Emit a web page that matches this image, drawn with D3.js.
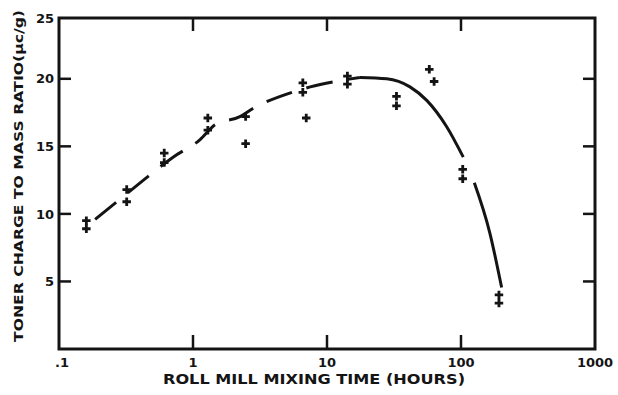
<!DOCTYPE html>
<html>
<head>
<meta charset="utf-8">
<script src="https://cdn.jsdelivr.net/npm/d3@7"></script>
<style>
  html, body { margin: 0; padding: 0; background: #ffffff; }
  svg { display: block; }
  text { font-family: "DejaVu Sans", "Liberation Sans", sans-serif; font-weight: bold; fill: #141414; }
</style>
</head>
<body>
<svg id="chart" width="618" height="395"></svg>
<script>
// ---- data ----
const hours = [0.16, 0.16, 0.32, 0.32, 0.61, 0.61, 1.29, 1.29, 2.47, 2.47, 6.6, 6.6, 7.0, 14.2, 14.2, 33, 33, 58, 63, 103, 103, 192, 192];
const ratio = [9.5, 8.9, 11.8, 10.9, 14.5, 13.8, 17.1, 16.2, 17.2, 15.2, 19.7, 19.0, 17.1, 20.2, 19.6, 18.7, 18.0, 20.7, 19.8, 13.3, 12.6, 4.0, 3.4];

// fitted curve: dashed rising part, solid peak/fall, solid tail
const fitDashHours = [0.186, 0.376, 0.538, 0.71, 1.13, 1.46, 2.24, 2.8, 5.48, 7.5, 11.5, 17.6];
const fitDashRatio = [9.6, 12.05, 13.3, 14.2, 15.5, 16.6, 17.2, 17.8, 19.0, 19.4, 19.8, 20.1];
const fitSolidHours = [17.6, 27.9, 41.6, 55.5, 78.2, 104];
const fitSolidRatio = [20.1, 20.0, 19.4, 18.4, 16.45, 14.2];
const fitTailHours = [125.7, 164, 201];
const fitTailRatio = [12.3, 8.6, 4.55];

const xTicks = [0.1, 1, 10, 100, 1000];
const xTickLabels = [".1", "1", "10", "100", "1000"];
const yTicks = [5, 10, 15, 20, 25];
const yTickLabels = ["5", "10", "15", "20", "25"];

const xTitle = "ROLL MILL MIXING TIME (HOURS)";
const yTitle = "TONER CHARGE TO MASS RATIO(\u03bcc/g)";

// ---- layout ----
const svg = d3.select("#chart");
const L = 59, R = 595, T = 18, B = 349;
const ink = "#141414";

const x = d3.scaleLog().domain([0.1, 1000]).range([L, R]);
const y = d3.scaleLinear().domain([0, 24.5]).range([B, T]);

// frame
svg.append("rect")
  .attr("x", L).attr("y", T).attr("width", R - L).attr("height", B - T)
  .attr("fill", "none").attr("stroke", ink).attr("stroke-width", 3);

// inner tick marks
const innerY = yTicks.filter(v => v < 24.5);
svg.selectAll(".ytl").data(innerY).enter().append("line")
  .attr("x1", L).attr("x2", L + 12).attr("y1", d => y(d)).attr("y2", d => y(d))
  .attr("stroke", ink).attr("stroke-width", 2.5);
svg.selectAll(".ytr").data(innerY).enter().append("line")
  .attr("x1", R - 12).attr("x2", R).attr("y1", d => y(d)).attr("y2", d => y(d))
  .attr("stroke", ink).attr("stroke-width", 2.5);
const innerX = xTicks.filter(v => v > 0.1 && v < 1000);
svg.selectAll(".xtt").data(innerX).enter().append("line")
  .attr("x1", d => x(d)).attr("x2", d => x(d)).attr("y1", T).attr("y2", T + 13)
  .attr("stroke", ink).attr("stroke-width", 2.5);
svg.selectAll(".xtb").data(innerX).enter().append("line")
  .attr("x1", d => x(d)).attr("x2", d => x(d)).attr("y1", B).attr("y2", B - 14)
  .attr("stroke", ink).attr("stroke-width", 2.5);

// tick labels
svg.selectAll(".ylab").data(yTicks).enter().append("text")
  .attr("x", 54)
  .attr("y", d => Math.max(y(d), T))
  .attr("dy", "0.36em")
  .attr("text-anchor", "end")
  .attr("font-size", 13)
  .text((d, i) => yTickLabels[i]);

svg.selectAll(".xlab").data(xTicks).enter().append("text")
  .attr("x", (d, i) => x(d) + (i === 0 ? 3 : 0))
  .attr("y", 367)
  .attr("text-anchor", "middle")
  .attr("font-size", 13)
  .text((d, i) => xTickLabels[i]);

// axis titles
svg.append("text")
  .attr("x", 163).attr("y", 384)
  .attr("font-size", 13.5)
  .attr("textLength", 302).attr("lengthAdjust", "spacingAndGlyphs")
  .text(xTitle);

svg.append("text")
  .attr("transform", "translate(23,342) rotate(-90)")
  .attr("font-size", 13)
  .attr("textLength", 332).attr("lengthAdjust", "spacingAndGlyphs")
  .text(yTitle);

// fitted curve
const line = d3.line().x(d => x(d[0])).y(d => y(d[1])).curve(d3.curveMonotoneX);
const zip = (a, b) => a.map((v, i) => [v, b[i]]);

svg.append("path").datum(zip(fitDashHours, fitDashRatio))
  .attr("d", line).attr("fill", "none").attr("stroke", ink)
  .attr("stroke-width", 3).attr("stroke-dasharray", "27,15");
svg.append("path").datum(zip(fitSolidHours, fitSolidRatio))
  .attr("d", line).attr("fill", "none").attr("stroke", ink).attr("stroke-width", 3);
svg.append("path").datum(zip(fitTailHours, fitTailRatio))
  .attr("d", line).attr("fill", "none").attr("stroke", ink).attr("stroke-width", 3);

// data markers (+)
const cross = d3.symbol().type(d3.symbolCross).size(40);
svg.selectAll(".pt").data(zip(hours, ratio)).enter().append("path")
  .attr("d", cross)
  .attr("transform", d => `translate(${x(d[0])},${y(d[1])})`)
  .attr("fill", ink);
</script>
</body>
</html>
